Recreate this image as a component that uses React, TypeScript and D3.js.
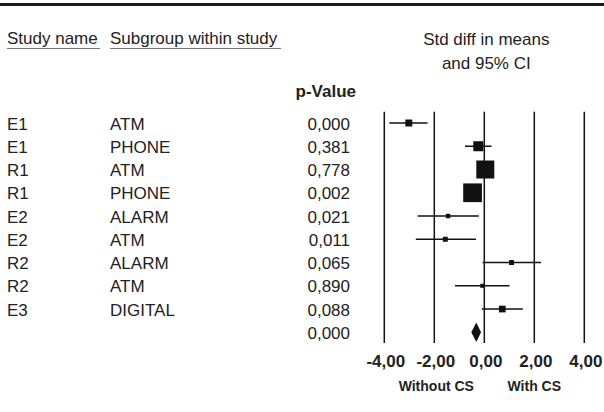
import React from "react";
import * as d3 from "d3";

const studies = ["E1", "E1", "R1", "R1", "E2", "E2", "R2", "R2", "E3"];
const subgroups = ["ATM", "PHONE", "ATM", "PHONE", "ALARM", "ATM", "ALARM", "ATM", "DIGITAL"];
const pValues = ["0,000", "0,381", "0,778", "0,002", "0,021", "0,011", "0,065", "0,890", "0,088"];
const effects = [-3.02, -0.24, 0.04, -0.47, -1.45, -1.56, 1.09, -0.08, 0.72];
const lowerCI = [-3.8, -0.77, -0.25, -0.76, -2.66, -2.74, -0.07, -1.17, -0.1];
const upperCI = [-2.27, 0.29, 0.33, -0.18, -0.22, -0.33, 2.27, 1.01, 1.54];
const weights = [5.1, 10.5, 34.0, 36.7, 2.1, 2.6, 2.6, 1.7, 4.7];
const summary = { p: "0,000", effect: -0.32, lower: -0.52, upper: -0.13 };
const ticks = [-4, -2, 0, 2, 4];
const tickLabels = ["-4,00", "-2,00", "0,00", "2,00", "4,00"];
const favourLeft = "Without CS";
const favourRight = "With CS";

export default function App() {
  const W = 604;
  const H = 412;
  const x = d3.scaleLinear().domain([-4, 4]).range([384.3, 584.3]);
  const nRows = studies.length + 1;
  const y = d3
    .scaleLinear()
    .domain([0, nRows - 1])
    .range([123, 332.3]);
  const size = d3.scaleSqrt().domain([0, d3.max(weights) as number]).range([0, 18.7]);
  const font = "'Liberation Sans', Arial, Helvetica, sans-serif";
  const txt = "#222";
  const lineTop = 111.7;
  const lineBottom = 343;
  const sy = y(nRows - 1);
  const dh = 9.7;
  const diamond = [
    [x(summary.lower), sy],
    [x(summary.effect), sy - dh],
    [x(summary.upper), sy],
    [x(summary.effect), sy + dh],
  ]
    .map((p) => p.join(","))
    .join(" ");

  return (
    <svg
      width={W}
      height={H}
      style={{ position: "absolute", left: 0, top: 0, background: "#fff" }}
      fontFamily={font}
    >
      <rect x={0} y={0} width={W} height={H} fill="#fff" />
      <line x1={0} x2={W} y1={4.5} y2={4.5} stroke="#1a1a1a" strokeWidth={3} />

      {/* headers */}
      <text x={7} y={44} fontSize={17} fill={txt}>Study name</text>
      <line x1={7} x2={100} y1={48.5} y2={48.5} stroke="#777" strokeWidth={1} />
      <text x={110} y={44} fontSize={17} fill={txt}>Subgroup within study</text>
      <line x1={110} x2={281} y1={48.5} y2={48.5} stroke="#777" strokeWidth={1} />
      <text x={x(0) + 2} y={45} fontSize={17} fill={txt} textAnchor="middle">Std diff in means</text>
      <text x={x(0) + 2} y={69} fontSize={17} fill={txt} textAnchor="middle">and 95% CI</text>
      <text x={356} y={97} fontSize={17} fontWeight="bold" fill={txt} textAnchor="end">p-Value</text>

      {/* grid lines */}
      {ticks.map((t) => (
        <line key={"g" + t} x1={x(t)} x2={x(t)} y1={lineTop} y2={lineBottom} stroke="#111" strokeWidth={1.5} />
      ))}

      {/* rows */}
      {studies.map((s, i) => {
        const cy = y(i);
        const side = size(weights[i]);
        return (
          <g key={"r" + i}>
            <text x={7} y={cy + 6.5} fontSize={17} fill={txt}>{s}</text>
            <text x={110} y={cy + 6.5} fontSize={17} fill={txt}>{subgroups[i]}</text>
            <text x={350} y={cy + 6.5} fontSize={17} fill={txt} textAnchor="end">{pValues[i]}</text>
            <line x1={x(lowerCI[i])} x2={x(upperCI[i])} y1={cy} y2={cy} stroke="#111" strokeWidth={1.5} />
            <rect x={x(effects[i]) - side / 2} y={cy - side / 2} width={side} height={side} fill="#111" />
          </g>
        );
      })}

      {/* summary */}
      <text x={350} y={sy + 6.5} fontSize={17} fill={txt} textAnchor="end">{summary.p}</text>
      <polygon points={diamond} fill="#111" />

      {/* axis labels */}
      {ticks.map((t, i) => (
        <text key={"t" + t} x={x(t) + 1.5} y={366.5} fontSize={17} fontWeight="bold" fill={txt} textAnchor="middle">
          {tickLabels[i]}
        </text>
      ))}
      <text x={x(-2) + 2} y={391} fontSize={14} fontWeight="bold" fill={txt} textAnchor="middle">{favourLeft}</text>
      <text x={x(2)} y={391} fontSize={14} fontWeight="bold" fill={txt} textAnchor="middle">{favourRight}</text>
    </svg>
  );
}
